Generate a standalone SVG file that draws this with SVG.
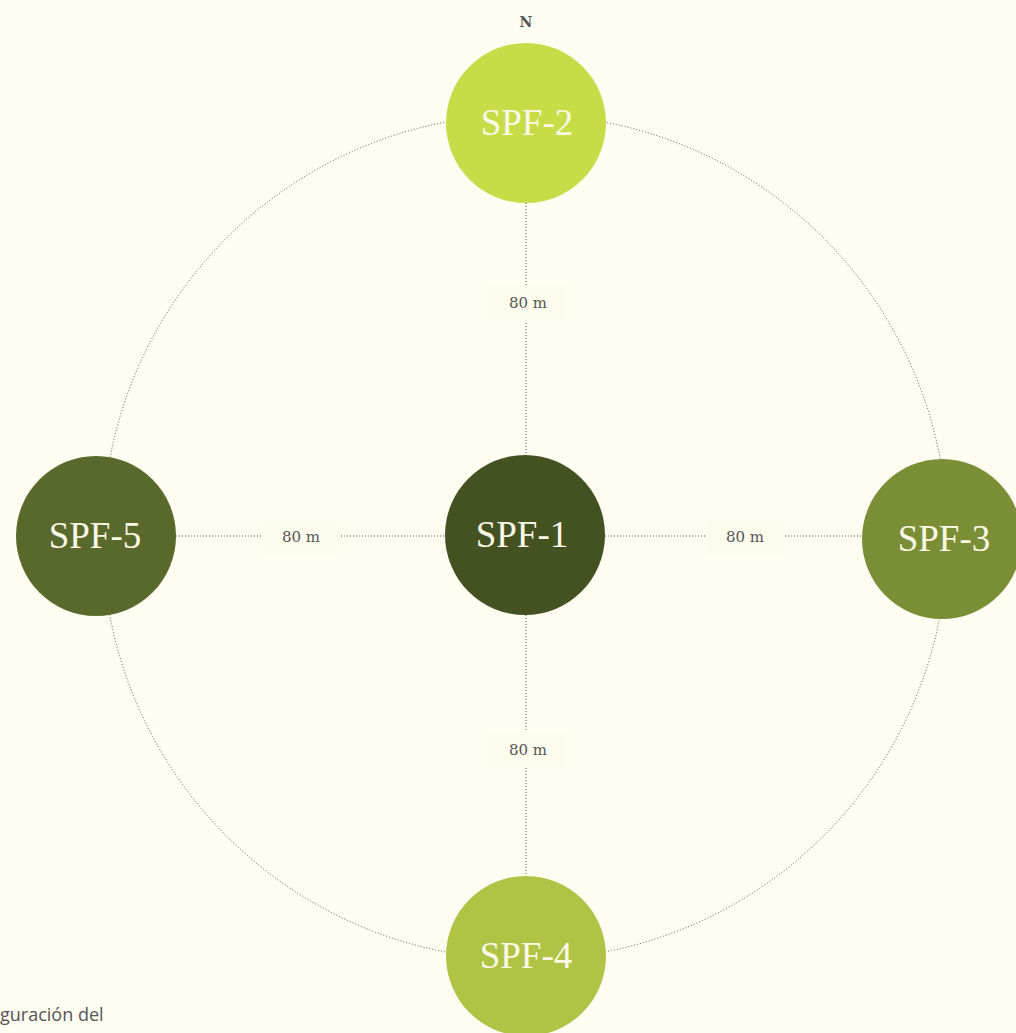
<svg xmlns="http://www.w3.org/2000/svg" width="1016" height="1033" viewBox="0 0 1016 1033">
<style>
.bg{fill:#fffcf2}
.ring{fill:none;stroke:#555;stroke-width:1;stroke-dasharray:1 2}
.spoke{stroke:#555;stroke-width:1;stroke-dasharray:1 2}
.lbg{fill:#fefcec}
.lbl{font-family:"DejaVu Serif",serif;font-size:15px;fill:#555;text-anchor:middle}
.ntxt{font-family:"Liberation Serif","DejaVu Serif",serif;font-size:37px;fill:#fbf8e6;text-anchor:middle}
.north{font-family:"DejaVu Serif",serif;font-size:14px;font-weight:bold;fill:#555;text-anchor:middle}
.cap{font-family:"Open Sans","Noto Sans",sans-serif;font-size:18px;fill:#555}
</style>
<rect class="bg" x="0" y="0" width="1016" height="1033"/>
<g id="connectors">
<circle class="ring" cx="525" cy="537" r="422.5"/>
<line class="spoke" x1="526" y1="203" x2="526" y2="455"/>
<line class="spoke" x1="526" y1="615" x2="526" y2="876"/>
<line class="spoke" x1="176" y1="536" x2="445" y2="536"/>
<line class="spoke" x1="605" y1="536" x2="862" y2="536"/>
</g>
<g id="labels">
<rect class="lbg" x="488" y="285" width="78" height="36"/>
<text class="lbl" x="528" y="308">80 m</text>
<rect class="lbg" x="488" y="732" width="78" height="36"/>
<text class="lbl" x="528" y="755">80 m</text>
<rect class="lbg" x="262" y="519" width="78" height="36"/>
<text class="lbl" x="301" y="542">80 m</text>
<rect class="lbg" x="706" y="519" width="78" height="36"/>
<text class="lbl" x="745" y="542">80 m</text>
</g>
<text class="north" x="526" y="27">N</text>
<g id="spf1"><circle cx="525" cy="535" r="80" fill="#445222"/><text class="ntxt" x="522" y="547">SPF-1</text></g>
<g id="spf2"><circle cx="526" cy="123" r="80" fill="#c8dc48"/><text class="ntxt" x="527" y="135">SPF-2</text></g>
<g id="spf3"><circle cx="942" cy="539" r="80" fill="#7a8e36"/><text class="ntxt" x="944" y="551">SPF-3</text></g>
<g id="spf4"><circle cx="526" cy="956" r="80" fill="#afc444"/><text class="ntxt" x="526" y="968">SPF-4</text></g>
<g id="spf5"><circle cx="96" cy="536" r="80" fill="#59692c"/><text class="ntxt" x="95" y="548">SPF-5</text></g>
<text class="cap" x="0" y="1021">guración del</text>
</svg>
